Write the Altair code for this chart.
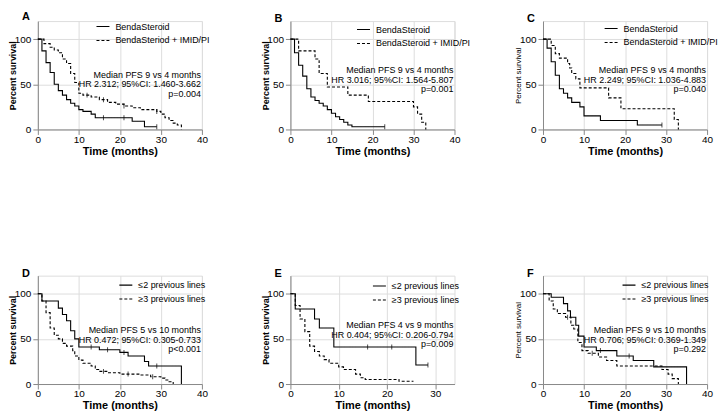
import altair as alt
import pandas as pd

FONT = "Liberation Sans, Arial, sans-serif"

# ---- Panel A ----
A_solid_t = [0, 1, 2, 3, 4, 5, 6, 7, 8, 9, 10, 11, 13, 14, 23, 26, 29]
A_solid_s = [100, 87, 74, 63, 50, 43, 38, 33, 29, 26, 22, 20, 17, 13, 9, 3, 3]
A_dash_t = [0, 1.5, 3, 4, 5, 6, 7, 8, 9, 10, 11, 13, 15, 17, 19, 21, 23, 25, 29, 30, 31, 32, 33, 34, 35]
A_dash_s = [100, 95, 91, 88, 85, 78, 73, 62, 52, 40, 38, 36, 33, 30, 28, 26, 24, 22, 20, 17, 13, 10, 7, 5, 0]
A_cens_t = [16, 21, 29, 12, 16, 21, 29]
A_cens_s = [13, 13, 3, 38, 33, 26, 20]
A_labels = ["BendaSteroid", "BendaSteriod + IMID/PI"]
A_note = ["Median PFS 9 vs 4 months", "HR 2.312; 95%CI: 1.460-3.662", "p=0.004"]

# ---- Panel B ----
B_solid_t = [0, 1, 2, 3, 4, 5, 6, 7, 8, 9, 10, 11, 12, 13, 14, 15, 23]
B_solid_s = [100, 85, 71, 59, 45, 36, 32, 29, 26, 22, 18, 14, 11, 8, 5, 3, 3]
B_dash_t = [0, 2, 6, 7, 9, 14, 19, 30, 31, 32, 33]
B_dash_s = [100, 87, 78, 62, 47, 38, 31, 25, 17, 8, 0]
B_cens_t = [23]
B_cens_s = [3]
B_labels = ["BendaSteroid", "BendaSteroid + IMID/PI"]
B_note = ["Median PFS 9 vs 4 months", "HR 3.016; 95%CI: 1.564-5.807", "p=0.001"]

# ---- Panel C ----
C_solid_t = [0, 1, 2, 3, 4, 5, 6, 7, 9, 10, 14, 23, 29]
C_solid_s = [100, 90, 75, 60, 45, 40, 35, 30, 25, 15, 10, 5, 5]
C_dash_t = [0, 2, 3, 4, 6, 6.5, 7, 8, 9, 16, 19, 32, 33]
C_dash_s = [100, 93, 84, 79, 73, 68, 62, 56, 46, 35, 23, 11, 0]
C_cens_t = [29]
C_cens_s = [5]
C_labels = ["BendaSteroid", "BendaSteroid + IMID/PI"]
C_note = ["Median PFS 9 vs 4 months", "HR 2.249; 95%CI: 1.036-4.883", "p=0.040"]

# ---- Panel D ----
D_solid_t = [0, 1, 5, 6, 7, 8, 9, 10, 15, 20, 22, 26, 27, 35]
D_solid_s = [100, 92, 84, 77, 70, 59, 50, 41, 38, 35, 31, 25, 20, 0]
D_dash_t = [0, 1, 2, 3, 4, 5, 6, 7, 8.5, 9, 10, 11, 13, 14, 15, 17, 20, 25, 27.5, 30, 31, 32, 33]
D_dash_s = [100, 92, 79, 62, 54, 50, 45, 42, 37, 31, 26.5, 23, 20, 16, 14, 12.5, 11, 10, 8, 6.5, 4.5, 2.5, 0]
D_cens_t = [13, 17, 21, 29, 16, 22, 28]
D_cens_s = [41, 38, 35, 20, 14, 11, 8]
D_labels = ["\u22642 previous lines", "\u22653 previous lines"]
D_note = ["Median PFS 5 vs 10 months", "HR 0.472; 95%CI: 0.305-0.733", "p<0.001"]

# ---- Panel E ----
E_solid_t = [0, 1, 5, 6, 9, 26, 28.5]
E_solid_s = [100, 83, 72, 62, 41, 21, 21]
E_dash_t = [0, 1, 2, 3, 4, 5, 6, 7, 8, 10, 11, 13.5, 14.5, 15.5, 22.5, 25.5]
E_dash_s = [100, 87, 72, 58, 42, 36, 31, 27, 23, 19, 16, 11, 7, 5, 3, 3]
E_cens_t = [16, 21, 28.5]
E_cens_s = [41, 41, 21]
E_labels = ["\u22642 previous lines", "\u22653 previous lines"]
E_note = ["Median PFS 4 vs 9 months", "HR 0.404; 95%CI: 0.206-0.794", "p=0.009"]

# ---- Panel F ----
F_solid_t = [0, 2, 5, 6, 6.7, 8, 8.7, 10, 13, 18, 22, 27, 35]
F_solid_s = [100, 96, 89, 81, 74, 65, 53, 41, 37, 31, 26, 19, 0]
F_dash_t = [0, 1.5, 2.5, 3.5, 5.5, 6.8, 7.5, 8.5, 9.5, 11, 13.5, 15.5, 18, 29, 30.5, 31.5, 33]
F_dash_s = [100, 92, 83, 78, 74, 65, 61, 46, 37, 34, 30, 26, 20, 16, 11, 6, 0]
F_cens_t = [14, 21, 6, 12]
F_cens_s = [37, 31, 74, 34]
F_labels = ["\u22642 previous lines", "\u22653 previous lines"]
F_note = ["Median PFS 9 vs 10 months", "HR 0.706; 95%CI: 0.369-1.349", "p=0.292"]

Y_TICKS = [0, 50, 100]
X_TICKS_40 = [0, 10, 20, 30, 40]
X_TICKS_30 = [0, 10, 20, 30]

W, H = 165, 109


def panel(letter, st, ss, dt, ds, ct, cs, labels, note, xmax, xticks,
          leg_x, leg_y, note_y, ytitle_bold=True):
    rows = [{"t": t, "s": s, "g": labels[0]} for t, s in zip(st, ss)]
    rows += [{"t": t, "s": s, "g": labels[1]} for t, s in zip(dt, ds)]
    df = pd.DataFrame(rows)
    cens = pd.DataFrame({"t": ct, "s": cs})

    xenc = alt.X("t:Q", scale=alt.Scale(domain=[0, xmax], nice=False, zero=True),
                 axis=alt.Axis(values=xticks, title="Time (months)", labelFlush=False,
                               labelOverlap=False, labelPadding=0, titlePadding=1))
    yaxis = alt.Axis(values=Y_TICKS, title="Percent survival", labelFlush=False,
                     labelOverlap=False, titleX=-25, titleY=H / 2, titleAngle=270,
                     titleAlign="center", titleBaseline="middle",
                     titleFontWeight="bold" if ytitle_bold else "normal",
                     titleFontSize=9 if ytitle_bold else 8)
    yenc = alt.Y("s:Q", scale=alt.Scale(domain=[0, 120], nice=False), axis=yaxis)

    lines = alt.Chart(df).mark_line(interpolate="step-after", strokeWidth=1.1,
                                    color="black").encode(
        x=xenc, y=yenc,
        strokeDash=alt.StrokeDash(
            "g:N",
            scale=alt.Scale(domain=labels, range=[[1, 0], [3, 2]]),
            legend=alt.Legend(orient="none", legendX=leg_x, legendY=leg_y, title=None,
                              symbolType="stroke", symbolSize=170,
                              symbolStrokeWidth=1.1, symbolStrokeColor="black",
                              labelFont=FONT, labelFontSize=9, labelColor="black",
                              labelLimit=0, labelOffset=5, rowPadding=1, padding=0),
        ),
    )
    ticks = alt.Chart(cens).mark_tick(orient="vertical", size=5, thickness=1,
                                      color="black").encode(x="t:Q", y="s:Q")
    text = alt.Chart(alt.InlineData(values=[{"k": 1}])).mark_text(
        text=note, align="right", baseline="top", fontSize=9, lineHeight=9.5,
        font=FONT, color="black"
    ).encode(x=alt.value(164), y=alt.value(note_y))

    return alt.layer(lines, ticks, text).properties(
        width=W, height=H,
        title=alt.TitleParams(letter, anchor="start", frame="group", dx=-16, offset=-3,
                              fontSize=11, fontWeight="bold", font=FONT, color="black"),
    )


pA = panel("A", A_solid_t, A_solid_s, A_dash_t, A_dash_s, A_cens_t, A_cens_s, A_labels,
           A_note, 40, X_TICKS_40, 58, -2, 50)
pB = panel("B", B_solid_t, B_solid_s, B_dash_t, B_dash_s, B_cens_t, B_cens_s, B_labels,
           B_note, 40, X_TICKS_40, 66, 1, 45.5)
pC = panel("C", C_solid_t, C_solid_s, C_dash_t, C_dash_s, C_cens_t, C_cens_s, C_labels,
           C_note, 40, X_TICKS_40, 61, 0, 45.5, ytitle_bold=False)
pD = panel("D", D_solid_t, D_solid_s, D_dash_t, D_dash_s, D_cens_t, D_cens_s, D_labels,
           D_note, 40, X_TICKS_40, 81, 2, 51)
pE = panel("E", E_solid_t, E_solid_s, E_dash_t, E_dash_s, E_cens_t, E_cens_s, E_labels,
           E_note, 34, X_TICKS_30, 82, 3, 46)
pF = panel("F", F_solid_t, F_solid_s, F_dash_t, F_dash_s, F_cens_t, F_cens_s, F_labels,
           F_note, 40, X_TICKS_40, 79, 2, 51, ytitle_bold=False)

chart = alt.concat(
    pA, pB, pC, pD, pE, pF, columns=3,
    spacing=alt.RowColnumber(row=147, column=89), bounds="flush"
).resolve_scale(strokeDash="independent").resolve_legend(
    strokeDash="independent"
).properties(
    padding={"left": 0, "top": 1, "right": 0, "bottom": 0}
).configure_view(stroke=None).configure_axis(
    grid=False, domainColor="black", tickColor="black", labelColor="black",
    titleColor="black", labelFont=FONT, titleFont=FONT, labelFontSize=8,
    labelFontWeight="bold", titleFontSize=9, titleFontWeight="bold", tickSize=3,
    labelPadding=1, domainWidth=1, tickWidth=1, minExtent=0,
).configure(background="white")

chart.save("out.html", embed_options={"renderer": "svg", "actions": False})
